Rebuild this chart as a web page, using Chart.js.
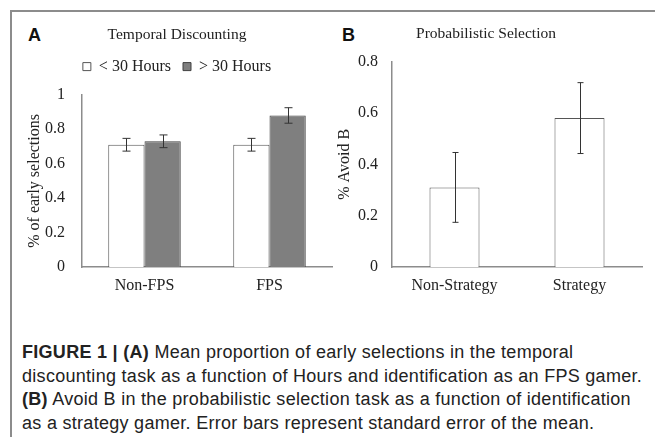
<!DOCTYPE html>
<html>
<head>
<meta charset="utf-8">
<script src="https://cdn.jsdelivr.net/npm/chart.js@4.4.1/dist/chart.umd.min.js"></script>
<style>
  body { margin: 0; width: 655px; height: 437px; background: #fff; position: relative; overflow: hidden; }
  .frame { position: absolute; left: 10px; top: 10px; width: 660px; height: 440px;
           border-top: 2px solid #8c8c8c; border-left: 2px solid #8c8c8c; }
  .tag { position: absolute; font: bold 18px "Liberation Sans", Arial, sans-serif; color: #111; }
  .wrap { position: absolute; }
  .caption { position: absolute; left: 22px; top: 341px; font-family: "Liberation Sans", Arial, sans-serif;
             font-size: 18px; line-height: 23.7px; letter-spacing: 0.29px; color: #222; white-space: nowrap; }
  .caption b { font-weight: bold; }
</style>
</head>
<body>
<div class="frame"></div>
<div class="tag" style="left:28px; top:25px;">A</div>
<div class="tag" style="left:342px; top:25px;">B</div>
<div class="wrap" style="left:10px; top:12px; width:335px; height:294px;"><canvas id="chartA"></canvas></div>
<div class="wrap" style="left:330px; top:12px; width:315px; height:294px;"><canvas id="chartB"></canvas></div>
<div class="caption">
  <b>FIGURE 1 | (A)</b> Mean proportion of early selections in the temporal<br>
  discounting task as a function of Hours and identification as an FPS gamer.<br>
  <b>(B)</b> Avoid B in the probabilistic selection task as a function of identification<br>
  as a strategy gamer. Error bars represent standard error of the mean.
</div>
<script>
// Panel A data: temporal discounting
const groupsA = ['Non-FPS', 'FPS'];
const under30 = [0.71, 0.71];
const under30Err = [0.037, 0.037];
const over30 = [0.73, 0.88];
const over30Err = [0.037, 0.045];

// Panel B data: probabilistic selection
const groupsB = ['Non-Strategy', 'Strategy'];
const avoidB = [0.31, 0.58];
const avoidBErr = [0.136, 0.138];

const serif = "'Liberation Serif', 'Times New Roman', serif";
Chart.defaults.font.family = serif;
Chart.defaults.color = '#222';

// draws error bars from dataset.errors through the scales
const errorBars = {
  id: 'errorBars',
  afterDatasetsDraw(chart, args, opts) {
    const ctx = chart.ctx;
    const y = chart.scales.y;
    ctx.save();
    ctx.strokeStyle = '#333';
    ctx.lineWidth = 1;
    chart.data.datasets.forEach((ds, i) => {
      const meta = chart.getDatasetMeta(i);
      meta.data.forEach((bar, j) => {
        const v = ds.data[j], e = ds.errors[j];
        const x = Math.round(bar.x) + 0.5;
        const yHi = y.getPixelForValue(v + e), yLo = y.getPixelForValue(v - e);
        const cap = opts.cap || 4;
        ctx.beginPath();
        ctx.moveTo(x, yHi); ctx.lineTo(x, yLo);
        ctx.moveTo(x - cap, yHi); ctx.lineTo(x + cap, yHi);
        ctx.moveTo(x - cap, yLo); ctx.lineTo(x + cap, yLo);
        ctx.stroke();
      });
    });
    ctx.restore();
  }
};

function axes(max, yTitle, yWidth, titlePad, tickPad) {
  return {
    x: {
      grid: { display: false, drawTicks: false },
      border: { color: '#8c8c8c', width: 1.5 },
      ticks: { font: { size: 16 }, color: '#222', padding: 9 },
      afterFit: s => { s.height = 39; }
    },
    y: {
      min: 0, max: max,
      grid: { display: false, drawTicks: false },
      border: { color: '#8c8c8c', width: 1.5 },
      ticks: { stepSize: 0.2, font: { size: 16 }, color: '#222', padding: tickPad,
               callback: v => String(Math.round(v * 10) / 10) },
      title: { display: true, text: yTitle, font: { size: 16 }, color: '#222', padding: { top: titlePad, bottom: 0 } },
      afterFit: s => { s.width = yWidth; }
    }
  };
}

new Chart(document.getElementById('chartA'), {
  type: 'bar',
  data: {
    labels: groupsA,
    datasets: [
      { label: '< 30 Hours', data: under30, errors: under30Err,
        backgroundColor: '#ffffff', borderColor: '#555', borderWidth: 1 },
      { label: '> 30 Hours', data: over30, errors: over30Err,
        backgroundColor: '#7f7f7f', borderColor: '#404040', borderWidth: 1 }
    ]
  },
  options: {
    responsive: true,
    maintainAspectRatio: false,
    animation: false,
    categoryPercentage: 0.58,
    barPercentage: 1.0,
    layout: { padding: { left: 12, right: 13, top: 0, bottom: 0 } },
    plugins: {
      title: { display: true, text: 'Temporal Discounting', font: { size: 15.5, weight: 'normal' }, color: '#222',
               padding: { top: 14, bottom: 2 } },
      legend: { display: true, labels: { boxWidth: 8, boxHeight: 8, padding: 12, font: { size: 16 }, color: '#222' } },
      // empty spacer placed under the legend
      subtitle: { display: true, text: '', weight: 500, font: { size: 1 }, padding: { top: 0, bottom: 9 } },
      tooltip: { enabled: false },
      errorBars: { cap: 4 }
    },
    scales: axes(1, '% of early selections', 60, 3, 17)
  },
  plugins: [errorBars]
});

new Chart(document.getElementById('chartB'), {
  type: 'bar',
  data: {
    labels: groupsB,
    datasets: [
      { label: '% Avoid B', data: avoidB, errors: avoidBErr,
        backgroundColor: '#ffffff', borderColor: '#555', borderWidth: 1 }
    ]
  },
  options: {
    responsive: true,
    maintainAspectRatio: false,
    animation: false,
    categoryPercentage: 0.4,
    barPercentage: 1.0,
    layout: { padding: { left: 0, right: 3, top: 0, bottom: 0 } },
    plugins: {
      title: { display: true, text: 'Probabilistic Selection', font: { size: 15.5, weight: 'normal' }, color: '#222',
               padding: { top: 13, bottom: 18 } },
      legend: { display: false },
      tooltip: { enabled: false },
      errorBars: { cap: 3 }
    },
    scales: axes(0.8, '% Avoid B', 62, 5, 14)
  },
  plugins: [errorBars]
});
</script>
</body>
</html>
